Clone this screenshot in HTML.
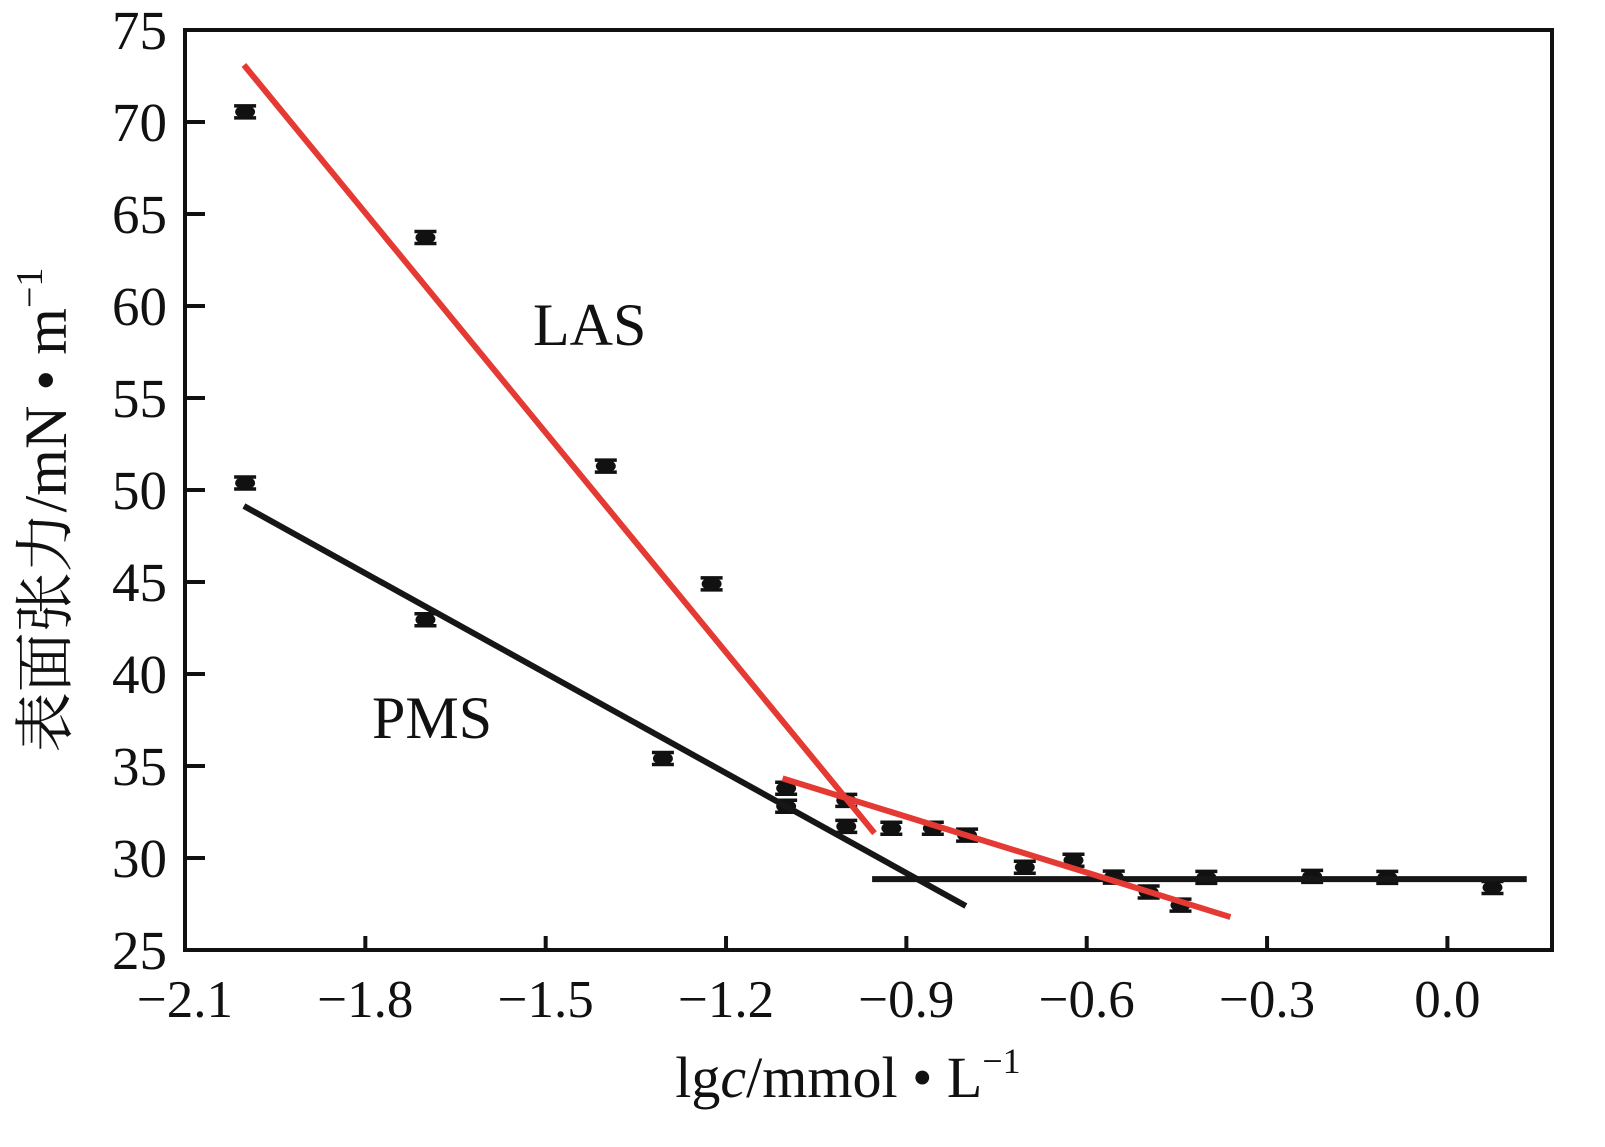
<!DOCTYPE html>
<html><head><meta charset="utf-8"><style>
body{margin:0;background:#fff}
text{font-family:"Liberation Serif","Noto Serif CJK SC",serif;fill:#111}
</style></head><body>
<svg id="chart" width="1605" height="1142" viewBox="0 0 1605 1142" xmlns="http://www.w3.org/2000/svg"></svg>
<script>
const xTicks=[-2.1,-1.8,-1.5,-1.2,-0.9,-0.6,-0.3,0.0];
const xTickLabels=["\u22122.1","\u22121.8","\u22121.5","\u22121.2","\u22120.9","\u22120.6","\u22120.3","0.0"];
const yTicks=[25,30,35,40,45,50,55,60,65,70,75];
const pointX=[-2.0,-2.0,-1.70,-1.70,-1.40,-1.305,-1.224,-1.1,-1.1,-1.0,-1.0,-0.925,-0.856,-0.799,-0.703,-0.622,-0.555,-0.497,-0.444,-0.401,-0.225,-0.1,0.075];
const pointY=[70.55,50.38,63.72,42.95,51.30,35.41,44.90,33.79,32.81,33.13,31.72,31.62,31.62,31.24,29.5,29.88,28.96,28.15,27.44,28.95,29.0,28.95,28.4];
const redLines=[[-2.002,73.1,-0.953,31.35],[-1.106,34.33,-0.361,26.79]];
const blackLines=[[-2.002,49.13,-0.801,27.39],[-0.957,28.85,0.132,28.85]];
const L=185,R=1552,T=30,B=950,X0=-2.1,X1=0.174;
const sx=v=>L+(v-X0)/(X1-X0)*(R-L);
const sy=v=>B-(v-25)/50*(B-T);
const svg=document.getElementById('chart');
const NS='http://www.w3.org/2000/svg';
function mk(tag,at,p){const e=document.createElementNS(NS,tag);for(const k in at)e.setAttribute(k,at[k]);(p||svg).appendChild(e);return e;}
let e;
e=mk('rect',{x:L,y:T,width:R-L,height:B-T,fill:'none',stroke:'#111','stroke-width':4});


xTicks.forEach((v,i)=>{
 e=mk('line',{x1:sx(v),x2:sx(v),y1:B,y2:B-14,stroke:'#111','stroke-width':4});
 
 
 e=mk('text',{x:sx(v),y:B+67,'font-size':53,'text-anchor':'middle'});e.textContent=xTickLabels[i];
 
 
});
yTicks.forEach(v=>{
 e=mk('line',{x1:L,x2:L+20,y1:sy(v),y2:sy(v),stroke:'#111','stroke-width':4});
 
 
 e=mk('text',{x:L-18,y:sy(v)+19,'font-size':55,'text-anchor':'end'});e.textContent=v;
 
 
});
function lines(arr,col,name){arr.forEach(a=>{
 e=mk('line',{x1:sx(a[0]),y1:sy(a[1]),x2:sx(a[2]),y2:sy(a[3]),stroke:col,'stroke-width':6});
 
 
});}
pointX.forEach((v,i)=>{
 const g=mk('g',{});
 
 
 const x=sx(v),y=sy(pointY[i]);
 mk('line',{x1:x-11,x2:x+11,y1:y-6,y2:y-6,stroke:'#111','stroke-width':3.5},g);
 mk('line',{x1:x-11,x2:x+11,y1:y+6,y2:y+6,stroke:'#111','stroke-width':3.5},g);
 mk('line',{x1:x,x2:x,y1:y-6,y2:y+6,stroke:'#111','stroke-width':3},g);
 mk('ellipse',{cx:x,cy:y,rx:10,ry:6.5,fill:'#111'},g);
});
lines(blackLines,'#161616','pms-fit-line');
lines(redLines,'#e53a33','las-fit-line');
e=mk('text',{x:533,y:345,'font-size':60});e.textContent='LAS';


e=mk('text',{x:372,y:738,'font-size':60});e.textContent='PMS';


e=mk('text',{x:848,y:1097,'font-size':58,'text-anchor':'middle'});
e.innerHTML='lg<tspan font-style="italic">c</tspan>/mmol • L<tspan font-size="36" dy="-24">−1</tspan>';


e=mk('text',{x:0,y:0,'font-size':60,'text-anchor':'middle',transform:'translate(66,510) rotate(-90)'});
e.innerHTML='表面张力/mN • m<tspan font-size="38" dy="-24">−1</tspan>';


</script>
</body></html>
